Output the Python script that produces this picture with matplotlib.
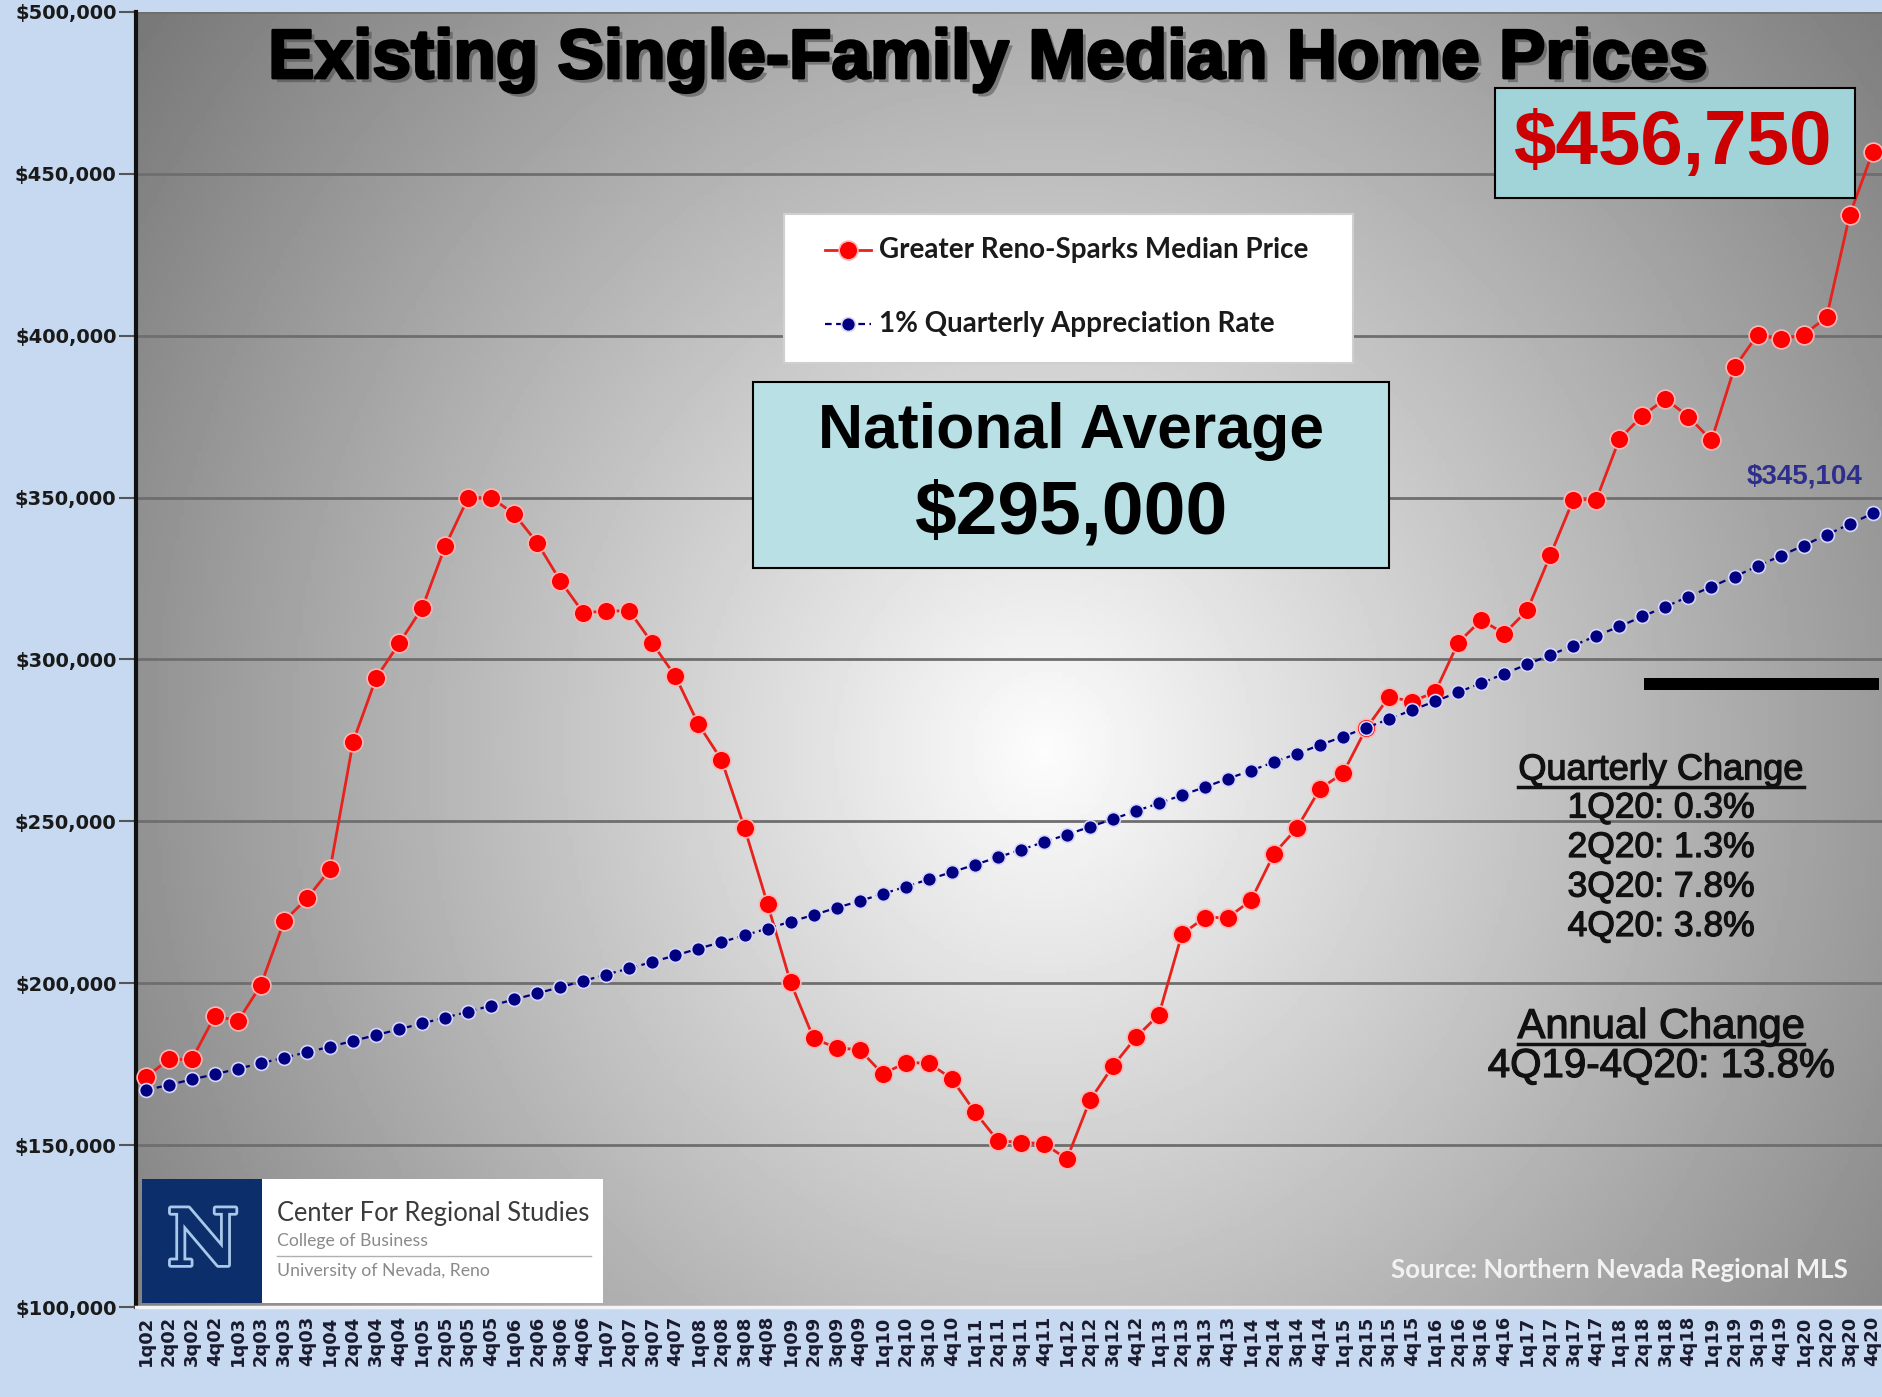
import numpy as np
import matplotlib.pyplot as plt
from matplotlib.patches import Rectangle
from matplotlib.lines import Line2D
from matplotlib.ticker import FuncFormatter
import matplotlib.patheffects as pe

# quarters 1q02 .. 4q20
years = list(range(2, 21))
quarters = [1, 2, 3, 4]
labels = [f"{q}q{y:02d}" for y in years for q in quarters]

reno_price = [171000, 176500, 176500, 190000, 188300, 199500, 219200, 226200, 235200, 274600,
              294300, 305000, 315900, 335000, 350000, 350000, 344900, 336000, 324300, 314400,
              315000, 315000, 305000, 294800, 280000, 269000, 248000, 224500, 200300, 183000,
              180000, 179500, 172000, 175400, 175400, 170500, 160300, 151400, 150800, 150500,
              145700, 163800, 174400, 183300, 190300, 215200, 220300, 220300, 225600, 240000,
              248000, 260100, 264900, 278700, 288500, 287000, 290000, 305200, 312200, 308000,
              315200, 332200, 349400, 349400, 368100, 375300, 380500, 375000, 367700, 390200,
              400300, 398900, 400300, 405700, 437200, 456750]

appreciation = [167000, 168600, 170300, 171900, 173600, 175300, 177000, 178700, 180400, 182200,
                184000, 185800, 187600, 189400, 191200, 193100, 195000, 196900, 198800, 200700,
                202700, 204600, 206600, 208600, 210700, 212700, 214800, 216900, 219000, 221100,
                223300, 225400, 227600, 229800, 232100, 234300, 236600, 238900, 241200, 243600,
                245900, 248300, 250700, 253200, 255600, 258100, 260600, 263200, 265700, 268300,
                270900, 273600, 276200, 278900, 281600, 284400, 287100, 289900, 292700, 295600,
                298500, 301400, 304300, 307300, 310200, 313300, 316300, 319400, 322500, 325600,
                328800, 332000, 335200, 338500, 341800, 345104]

series_names = ['Greater Reno-Sparks Median Price', '1% Quarterly Appreciation Rate']
quarterly_lines = ["1Q20: 0.3%", "2Q20: 1.3%", "3Q20: 7.8%", "4Q20: 3.8%"]
annual_line = "4Q19-4Q20: 13.8%"

W, H = 1883, 1397
fig = plt.figure(figsize=(W / 100, H / 100), dpi=100, facecolor='#c6d9f1')


def fx(px):
    return px / W


def fy(py):
    return 1 - py / H


ax = fig.add_axes([fx(136), fy(1307), fx(1883) - fx(136), fy(12) - fy(1307)])

# radial grey background of the plot area
gx, gy = np.meshgrid(np.linspace(0, 1, 400), np.linspace(0, 1, 300))
r = np.sqrt(((gx - 0.52) / 0.55) ** 2 + ((gy - 0.43) / 0.8) ** 2)
shade = np.clip(0.99 - 0.44 * r, 0.47, 1)
ax.imshow(shade, cmap='gray', vmin=0, vmax=1, extent=[0, 1, 0, 1],
          transform=ax.transAxes, origin='lower', aspect='auto', zorder=0)

red_style = dict(color='#e8211c', lw=2, marker='o', ms=13.5, mfc='#ff0000',
                 mec='#ffb4b4', mew=1.2)
blue_style = dict(color='#000080', lw=1.6, ls=(0, (3, 2)), marker='o', ms=10,
                  mfc='#000080', mec='#d6d6ff', mew=1.2)

x = np.arange(len(labels))
ax.plot(x, reno_price, zorder=3, **red_style)
ax.plot(x, appreciation, zorder=4, **blue_style)

ax.set_xlim(-0.43, 75.45)
ax.set_ylim(100000, 500000)
ax.set_yticks(range(100000, 500001, 50000))
ax.yaxis.set_major_formatter(FuncFormatter(lambda v, p: f"${v:,.0f}"))
ax.set_xticks(x)
ax.set_xticklabels(labels, rotation=90, fontsize=13, fontweight='bold',
                   family='DejaVu Sans', color='#1a1a2e')
for t in ax.get_yticklabels():
    t.set_fontsize(14)
    t.set_fontweight('bold')
    t.set_family('DejaVu Sans')
    t.set_color('#1a1a1a')
ax.tick_params(axis='y', length=12, width=1.5, color='#555555', pad=2)
ax.tick_params(axis='x', length=0, pad=6)
ax.yaxis.grid(True, color='#6e6e6e', lw=2)
ax.set_axisbelow(True)
for side in ['top', 'right']:
    ax.spines[side].set_visible(False)
ax.spines['left'].set_color('#111111')
ax.spines['left'].set_linewidth(3)
ax.spines['bottom'].set_color('#f4f4f4')
ax.spines['bottom'].set_linewidth(2.5)

# legend box drawn by hand
fig.add_artist(Rectangle((fx(784), fy(363)), fx(1353) - fx(784), fy(214) - fy(363),
                         transform=fig.transFigure, facecolor='white',
                         edgecolor='#cfcfcf', lw=1.5))
for style, name, ry in [(red_style, series_names[0], 250), (blue_style, series_names[1], 324)]:
    fig.add_artist(Line2D([fx(825), fx(848), fx(871)], [fy(ry)] * 3,
                          transform=fig.transFigure, markevery=[1], **style))
    fig.text(fx(879), fy(ry), name, fontsize=20, fontweight='bold', family='Lato',
             ha='left', va='center', color='#1a1a1a')

# title
fig.text(fx(988), fy(60), 'Existing Single-Family Median Home Prices', fontsize=50,
         fontweight='bold', family='Liberation Sans', ha='center', va='center',
         color='black',
         path_effects=[pe.SimplePatchShadow(offset=(3, -3), shadow_rgbFace='#444444', alpha=0.5),
                       pe.Stroke(linewidth=2, foreground='black'), pe.Normal()])

# national average box
fig.add_artist(Rectangle((fx(753), fy(568)), fx(1389) - fx(753), fy(382) - fy(568),
                         transform=fig.transFigure, facecolor='#b9e0e4',
                         edgecolor='black', lw=1.5))
fig.text(fx(1071), fy(432), 'National Average', fontsize=45, fontweight='bold',
         family='Liberation Sans', ha='center', va='center', color='black')
fig.text(fx(1071), fy(514), '$295,000', fontsize=54, fontweight='bold',
         family='Liberation Sans', ha='center', va='center', color='black')

# latest price box
fig.add_artist(Rectangle((fx(1495), fy(198)), fx(1855) - fx(1495), fy(88) - fy(198),
                         transform=fig.transFigure, facecolor='#a0d4d8',
                         edgecolor='black', lw=1.5))
fig.text(fx(1672), fy(145), '$456,750', fontsize=55, fontweight='bold',
         family='Liberation Sans', ha='center', va='center', color='#cc0000')

fig.text(fx(1804), fy(476), '$345,104', fontsize=20, fontweight='bold',
         family='Liberation Sans', ha='center', va='center', color='#2e2e8c')

fig.add_artist(Rectangle((fx(1644), fy(690)), fx(1879) - fx(1644), fy(678) - fy(690),
                         transform=fig.transFigure, facecolor='black', edgecolor='none'))

# change notes
thick = [pe.Stroke(linewidth=0.9, foreground='#111111'), pe.Normal()]
head1 = fig.text(fx(1661), fy(770), 'Quarterly Change', fontsize=26, family='Liberation Sans',
                 ha='center', va='center', color='#111111', path_effects=thick)
for i, s in enumerate(quarterly_lines):
    fig.text(fx(1661), fy(808 + i * 39.5), s, fontsize=25.5, family='Liberation Sans',
             ha='center', va='center', color='#111111', path_effects=thick)
head2 = fig.text(fx(1661), fy(1027), 'Annual Change', fontsize=30, family='Liberation Sans',
                 ha='center', va='center', color='#111111', path_effects=thick)
fig.text(fx(1661), fy(1066), annual_line, fontsize=29, family='Liberation Sans',
         ha='center', va='center', color='#111111', path_effects=thick)

fig.canvas.draw()
renderer = fig.canvas.get_renderer()
for t, uy in [(head1, 787), (head2, 1044)]:
    bb = t.get_window_extent(renderer)
    fig.add_artist(Line2D([bb.x0 / W, bb.x1 / W], [fy(uy), fy(uy)],
                          transform=fig.transFigure, color='#111111', lw=2.5))

# logo block
fig.add_artist(Rectangle((fx(262), fy(1303)), fx(603) - fx(262), fy(1179) - fy(1303),
                         transform=fig.transFigure, facecolor='white', edgecolor='none'))
fig.add_artist(Rectangle((fx(142), fy(1303)), fx(262) - fx(142), fy(1179) - fy(1303),
                         transform=fig.transFigure, facecolor='#0c2f6b', edgecolor='none'))
fig.text(fx(203), fy(1243), 'N', fontsize=56, fontweight='bold', family='DejaVu Serif',
         ha='center', va='center', color='#0c2f6b',
         path_effects=[pe.Stroke(linewidth=4, foreground='#a9c8ea'), pe.Normal()])
fig.text(fx(277), fy(1213), 'Center For Regional Studies', fontsize=18.4, family='Lato',
         ha='left', va='center', color='#3a3a3a')
fig.text(fx(277), fy(1241), 'College of Business', fontsize=12.7, family='Lato',
         ha='left', va='center', color='#8a8a8a')
fig.add_artist(Line2D([fx(277), fx(591)], [fy(1256), fy(1256)], transform=fig.transFigure,
                      color='#b0b0b0', lw=1))
fig.text(fx(277), fy(1271), 'University of Nevada, Reno', fontsize=12.7, family='Lato',
         ha='left', va='center', color='#8a8a8a')

fig.text(fx(1391), fy(1270), 'Source: Northern Nevada Regional MLS', fontsize=18.5,
         fontweight='bold', family='Lato', ha='left', va='center', color='#f2f2f2')

plt.savefig('out.png', dpi=100, facecolor=fig.get_facecolor())
